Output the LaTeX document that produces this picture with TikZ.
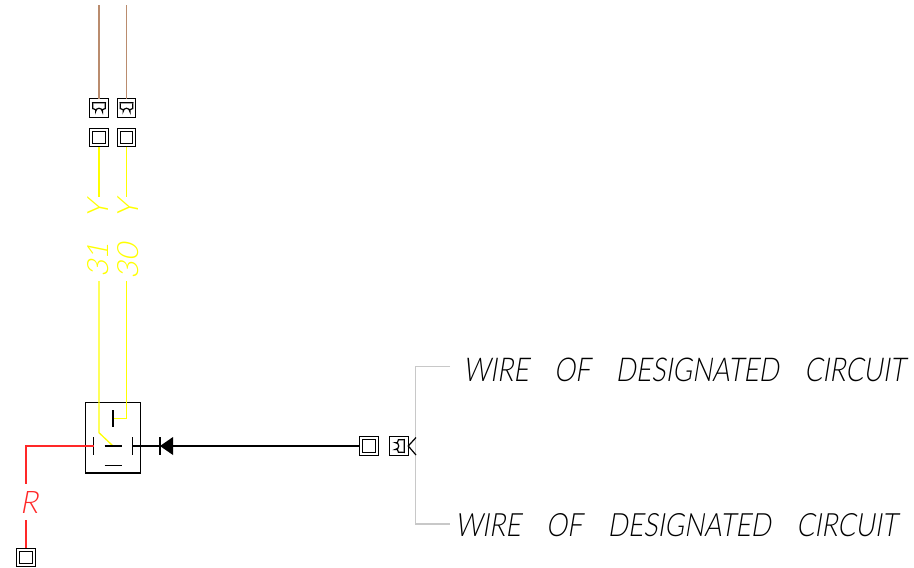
\documentclass[tikz,border=0pt]{standalone}
\usepackage{fontspec}
\setmainfont{Liberation Sans}
\newfontfamily\cad[FakeSlant=0.2]{Lato Light}
\definecolor{brownwire}{RGB}{186,140,110}
\definecolor{ywire}{RGB}{255,255,0}
\definecolor{rwire}{RGB}{255,40,40}
\definecolor{gwire}{RGB}{200,200,200}
\newcommand{\cadtext}{\cad WIRE\hspace{0.95em}OF\hspace{0.95em}DESIGNATED\hspace{0.95em}CIRCUIT}
\begin{document}
\begin{tikzpicture}[x=1pt,y=-1pt,
  base/.style={line width=1.4pt,black},
  sq/.style={base,draw,fill=white,minimum size=18.5pt,inner sep=0pt,outer sep=0pt},
  plain/.style={sq,path picture={\draw[line width=1.3pt] ([shift={(3pt,3pt)}]path picture bounding box.south west) rectangle ([shift={(-3pt,-3pt)}]path picture bounding box.north east);}},
  yw/.style={ywire,line width=1.3pt},
  rw/.style={rwire,line width=1.3pt},
  bw/.style={brownwire,line width=1.3pt},
  gw/.style={gwire,line width=1.5pt},
  bk/.style={black,line width=1.2pt},
  lab/.style={font=\cad,inner sep=0pt,outer sep=0pt},
  sock/.pic={\draw[black,line width=1.2pt] (-6.4,-5.3) -- (6.4,-5.3) -- (6.2,0.6) -- (3.4,1.6) -- (3.4,3.6) arc[start angle=0,end angle=180,radius=3.4pt] -- (-3.4,1.6) -- (-6.2,0.6) -- cycle;}
]
\useasboundingbox (0,0) rectangle (914,568);
% connector blocks
\node[sq] (s1) at (99,108) {};
\node[sq] (s2) at (126.5,108) {};
\pic at (99,108) {sock};
\pic at (126.5,108) {sock};
\node[plain] (p1) at (99,137.5) {};
\node[plain] (p2) at (126.5,137.5) {};
\coordinate (b1) at (99,5);
\coordinate (b2) at (126.5,5);
\draw[bw] (b1) -- (s1.north);
\draw[bw] (b2) -- (s2.north);
% rotated wire labels
\node[lab,rotate=90,text=ywire,anchor=center] (l31) at (98.5,239) {\resizebox{77pt}{21pt}{31\hspace{0.8em}Y}};
\node[lab,rotate=90,text=ywire,anchor=center] (l30) at (128,240) {\resizebox{79pt}{21pt}{30\hspace{0.8em}Y}};
\coordinate (y1a) at (99,197);
\coordinate (y2a) at (126.5,197);
\coordinate (y1b) at (99,281);
\coordinate (y2b) at (126.5,281);
\draw[yw] (p1.south) -- (y1a);
\draw[yw] (p2.south) -- (y2a);
% relay
\node[base,draw,minimum width=55.4pt,minimum height=70.3pt,inner sep=0pt,outer sep=0pt] (relay) at (113,437.8) {};
\coordinate (com) at (113,446);
\coordinate (lc) at (93.5,446);
\coordinate (rc) at (132.7,446);
\coordinate (tc) at (113,418.3);
\draw[yw] (y1b) -- (99,432.7) -- (com);
\draw[yw] (y2b) -- (126.5,418.3) -- (tc);
\draw[bk] (113,410) -- (113,427);
\draw[bk] (104.5,446) -- (121.5,446);
\draw[bk] (104.5,465.7) -- (121.5,465.7);
\draw[bk] (93.5,437) -- (93.5,455);
\draw[bk] (132.7,437) -- (132.7,455);
% red
\node[lab,text=rwire] (rlab) at (29,502.5) {\resizebox{18pt}{22pt}{R}};
\node[plain] (p3) at (26,557.5) {};
\coordinate (rbend) at (26,446);
\coordinate (rend) at (26,484);
\coordinate (rstart) at (26,520);
\draw[rw] (lc) -- (rbend) -- (rend);
\draw[rw] (rstart) -- (p3.north);
% right connectors
\node[plain] (p4) at (369,446) {};
\node[sq] (s3) at (399,446) {};
\pic[rotate=-90] at (399,446) {sock};
\draw[bk] (rc) -- (p4.west);
\coordinate (dbar) at (160,446);
\draw[bk] (160,437) -- (160,455);
\fill[black] (dbar) -- (173,437) -- (173,455) -- cycle;
% branch
\coordinate (g1) at (450,366.7);
\coordinate (g2) at (450,524);
\draw[gw] (g1) -- (415.7,366.7) -- (415.7,524) -- (g2);
\draw[bk] (416,437.5) -- (s3.east) -- (416,455);
\node[lab,anchor=west] (t1) at (463,369.5) {\resizebox{442pt}{23.5pt}{\cadtext}};
\node[lab,anchor=west] (t2) at (455,525) {\resizebox{442pt}{23pt}{\cadtext}};
\end{tikzpicture}
\end{document}
